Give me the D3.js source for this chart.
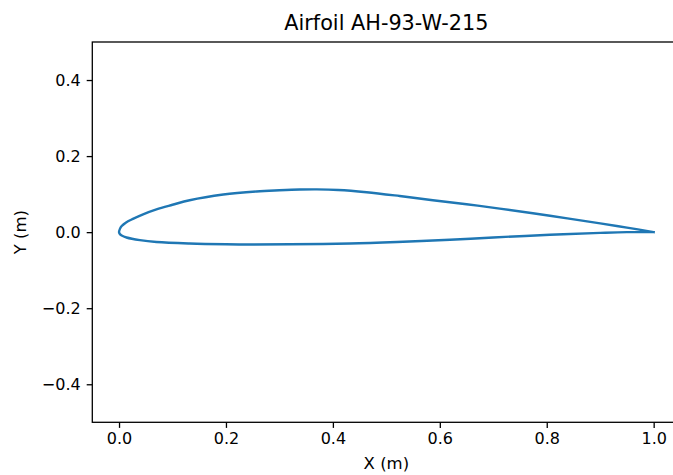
<!DOCTYPE html>
<html>
<head>
<meta charset="utf-8">
<script src="https://cdn.jsdelivr.net/npm/d3@7"></script>
<style>
  html, body { margin: 0; padding: 0; background: #fff; }
  svg { display: block; }
  text { font-family: "DejaVu Sans", sans-serif; fill: #000; }
</style>
</head>
<body>
<svg id="chart" width="673" height="475"></svg>
<script>
// ---- data ----
const title = "Airfoil AH-93-W-215";
const xLabel = "X (m)";
const yLabel = "Y (m)";
const xTicks = [0.0, 0.2, 0.4, 0.6, 0.8, 1.0];
const yTicks = [-0.4, -0.2, 0.0, 0.2, 0.4];

// upper surface, leading edge -> trailing edge
const upperX = [0, 0.0015, 0.005, 0.0125, 0.026, 0.045, 0.07, 0.1, 0.132, 0.195, 0.257, 0.3, 0.338, 0.37, 0.41, 0.463, 0.525, 0.587, 0.65, 0.712, 0.806, 0.9, 0.95, 1.0];
const upperY = [0, 0.008, 0.016, 0.025, 0.035, 0.047, 0.060, 0.072, 0.084, 0.099, 0.107, 0.110, 0.112, 0.1125, 0.111, 0.105, 0.095, 0.084, 0.0735, 0.062, 0.043, 0.023, 0.012, 0.0];
// lower surface, leading edge -> trailing edge
const lowerX = [0, 0.0015, 0.005, 0.014, 0.039, 0.07, 0.132, 0.2, 0.25, 0.32, 0.432, 0.52, 0.619, 0.7, 0.806, 0.9, 0.95, 1.0];
const lowerY = [0, -0.005, -0.009, -0.014, -0.021, -0.026, -0.030, -0.032, -0.0325, -0.032, -0.030, -0.026, -0.020, -0.014, -0.007, -0.002, 0.0, 0.0];

// ---- layout ----
const svg = d3.select("#chart");
const mLeft = 92.3, mTop = 42, mBottom = 422.3, mRight = 680.4;

const x = d3.scaleLinear().domain([-0.05, 1.05]).range([mLeft, mRight]);
const y = d3.scaleLinear().domain([-0.5, 0.5]).range([mBottom, mTop]);

const fmt = v => d3.format(".1f")(v).replace("-", "\u2212");

// airfoil outline: trailing edge -> upper -> leading edge -> lower -> trailing edge
const pts = [];
for (let i = upperX.length - 1; i >= 0; i--) pts.push([upperX[i], upperY[i]]);
for (let i = 1; i < lowerX.length; i++) pts.push([lowerX[i], lowerY[i]]);

const line = d3.line().x(d => x(d[0])).y(d => y(d[1])).curve(d3.curveCatmullRom.alpha(0.5));

svg.append("path")
  .attr("d", line(pts))
  .attr("fill", "none")
  .attr("stroke", "#1f77b4")
  .attr("stroke-width", 2.4)
  .attr("stroke-linejoin", "round")
  .attr("stroke-linecap", "square");

// axes
const xAxis = d3.axisBottom(x).tickValues(xTicks).tickFormat(fmt).tickSize(5.6).tickPadding(5);
const yAxis = d3.axisLeft(y).tickValues(yTicks).tickFormat(fmt).tickSize(5.6).tickPadding(6);

const gx = svg.append("g").attr("transform", `translate(0,${mBottom})`).call(xAxis);
const gy = svg.append("g").attr("transform", `translate(${mLeft},0)`).call(yAxis);
[gx, gy].forEach(g => {
  g.select(".domain").remove();
  g.selectAll(".tick line").attr("stroke", "#000").attr("stroke-width", 1.3);
  g.selectAll(".tick text").attr("font-size", "16px").attr("font-family", "DejaVu Sans").attr("fill", "#000");
});
gx.selectAll(".tick text").attr("dy", "0.71em");

// spines
svg.append("rect")
  .attr("x", mLeft).attr("y", mTop)
  .attr("width", mRight - mLeft).attr("height", mBottom - mTop)
  .attr("fill", "none").attr("stroke", "#000").attr("stroke-width", 1.3);

// labels
svg.append("text")
  .attr("x", (mLeft + mRight) / 2).attr("y", 30)
  .attr("text-anchor", "middle").attr("font-size", "20.8px")
  .text(title);

svg.append("text")
  .attr("x", (mLeft + mRight) / 2).attr("y", 469)
  .attr("text-anchor", "middle").attr("font-size", "16.5px")
  .text(xLabel);

svg.append("text")
  .attr("transform", `translate(26,${(mTop + mBottom) / 2}) rotate(-90)`)
  .attr("text-anchor", "middle").attr("font-size", "16.5px")
  .text(yLabel);
</script>
</body>
</html>
